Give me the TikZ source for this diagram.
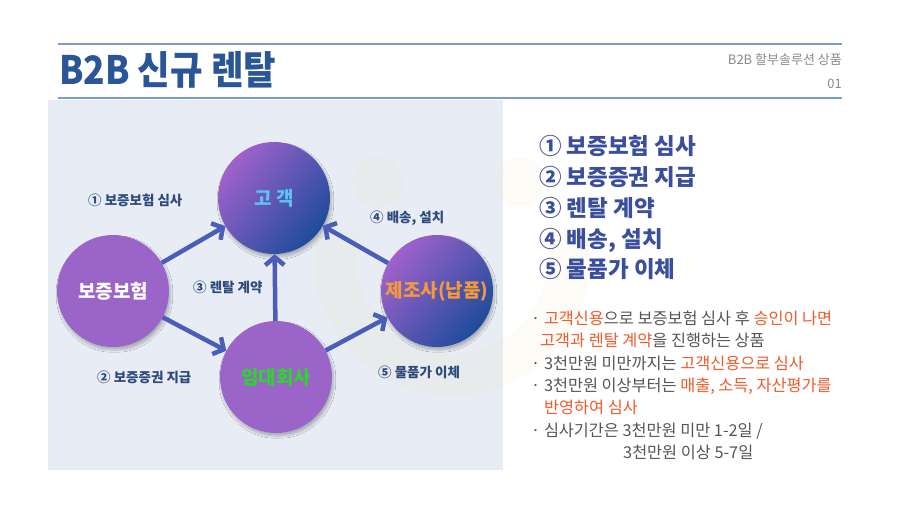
\documentclass[tikz,border=0pt]{standalone}
\usepackage{fontspec}
\setmainfont{Noto Sans CJK KR}
\usetikzlibrary{arrows.meta,shadows.blur}
\definecolor{panelc}{HTML}{E8EDF5}
\definecolor{hdrline}{HTML}{7F9CC8}
\definecolor{titlec}{HTML}{2A5596}
\definecolor{graytxt}{HTML}{8A8A8A}
\definecolor{beigec}{HTML}{F3D79A}
\definecolor{circp}{HTML}{9A64C8}
\definecolor{gradp}{HTML}{A062CC}
\definecolor{gradb}{HTML}{1E4B9B}
\definecolor{arrc}{HTML}{4A5DB8}
\definecolor{lblc}{HTML}{2C4A7C}
\definecolor{listc}{HTML}{3A4E9E}
\definecolor{hilite}{HTML}{F05A2A}
\definecolor{normc}{HTML}{555555}
\definecolor{skyc}{HTML}{5CC3F2}
\definecolor{greenc}{HTML}{2ED42E}
\definecolor{orangec}{HTML}{F39A3B}
\tikzset{
  circbase/.style={circle, minimum size=112pt, inner sep=0pt,
    blur shadow={shadow blur steps=10, shadow xshift=1.5pt, shadow yshift=-3pt, shadow opacity=25, shadow blur extra rounding=3pt},
    font=\bfseries\fontsize{19}{22}\selectfont},
  solidcirc/.style={circbase, fill=circp},
  gradcirc/.style={circbase, top color=gradp, bottom color=gradb, shading angle=50},
  arr/.style={arrc, line width=4.5pt, -{Straight Barb[length=8pt,width=19pt]}},
  dlabel/.style={anchor=base west, text=lblc, font=\bfseries\fontsize{13.5}{15}\selectfont, inner sep=0pt},
  listitem/.style={anchor=base west, text=listc, font=\bfseries\fontsize{22.5}{26}\selectfont, inner sep=0pt},
  bullet/.style={anchor=base west, text=normc, font=\fontsize{16.3}{19}\selectfont, inner sep=0pt},
  hdrtext/.style={text=graytxt, font=\fontsize{13}{15}\selectfont, inner sep=0pt},
}
\begin{document}
\begin{tikzpicture}[x=1pt,y=-1pt]
\useasboundingbox (0,0) rectangle (900,506);
\fill[white] (0,0) rectangle (900,506);
% panel
\fill[panelc] (48,100) rectangle (503,470);
% faint decoration
\begin{scope}[opacity=0.09]
  \fill[beigec] (378,182) circle (25);
  \fill[beigec] (520,182) circle (25);
  \begin{scope}
    \clip (0,232) rectangle (900,506);
    \fill[beigec, even odd rule] (452,258) circle (138) (452,258) circle (96);
  \end{scope}
\end{scope}
% header
\draw[hdrline, line width=1.3pt] (58,44) -- (842,44);
\draw[hdrline, line width=1.3pt] (58,98) -- (842,98);
\node[anchor=base west, inner sep=0pt, text=titlec, font=\bfseries\fontsize{34}{40}\selectfont] (title) at (59,84) {\scalebox{1.04}[1.15]{B2B 신규 렌탈}};
\node[hdrtext, anchor=base east] (sub1) at (842,64) {B2B 할부솔루션 상품};
\node[hdrtext, anchor=base east] (sub2) at (842,88) {01};
% circles
\node[solidcirc, text=white] (bz) at (113,291) {보증보험};
\node[gradcirc, text=skyc] (gk) at (274,198) {고 객};
\node[solidcirc, text=greenc] (im) at (276,377) {임대회사};
\node[gradcirc, text=orangec] (jj) at (437,291) {제조사(납품)};
% arrows
\draw[arr] (bz) -- (gk);
\draw[arr] (bz) -- (im);
\draw[arr] (im) -- (gk);
\draw[arr] (jj) -- (gk);
\draw[arr] (im) -- (jj);
% diagram labels
\node[dlabel] (l1) at (88,205) {① 보증보험 심사};
\node[dlabel] (l2) at (97,382) {② 보증증권 지급};
\node[dlabel] (l3) at (193,292) {③ 렌탈 계약};
\node[dlabel] (l4) at (370,222) {④ 배송, 설치};
\node[dlabel] (l5) at (378,377) {⑤ 물품가 이체};
% right list
\node[listitem] (r1) at (539,154) {① 보증보험 심사};
\node[listitem] (r2) at (539,185) {② 보증증권 지급};
\node[listitem] (r3) at (539,216) {③ 렌탈 계약};
\node[listitem] (r4) at (539,247) {④ 배송, 설치};
\node[listitem] (r5) at (539,277) {⑤ 물품가 이체};
% bullets
\node[bullet] (b1) at (531,324) {· \textcolor{hilite}{고객신용}으로 보증보험 심사 후 \textcolor{hilite}{승인이 나면}};
\node[bullet] (b2) at (540,346) {\textcolor{hilite}{고객과 렌탈 계약}을 진행하는 상품};
\node[bullet] (b3) at (531,369) {· 3천만원 미만까지는 \textcolor{hilite}{고객신용으로 심사}};
\node[bullet] (b4) at (531,391) {· 3천만원 이상부터는 \textcolor{hilite}{매출, 소득, 자산평가를}};
\node[bullet] (b5) at (544,413) {\textcolor{hilite}{반영하여 심사}};
\node[bullet] (b6) at (531,436) {· 심사기간은 3천만원 미만 1-2일 /};
\node[bullet] (b7) at (623,458) {3천만원 이상 5-7일};
\end{tikzpicture}
\end{document}
